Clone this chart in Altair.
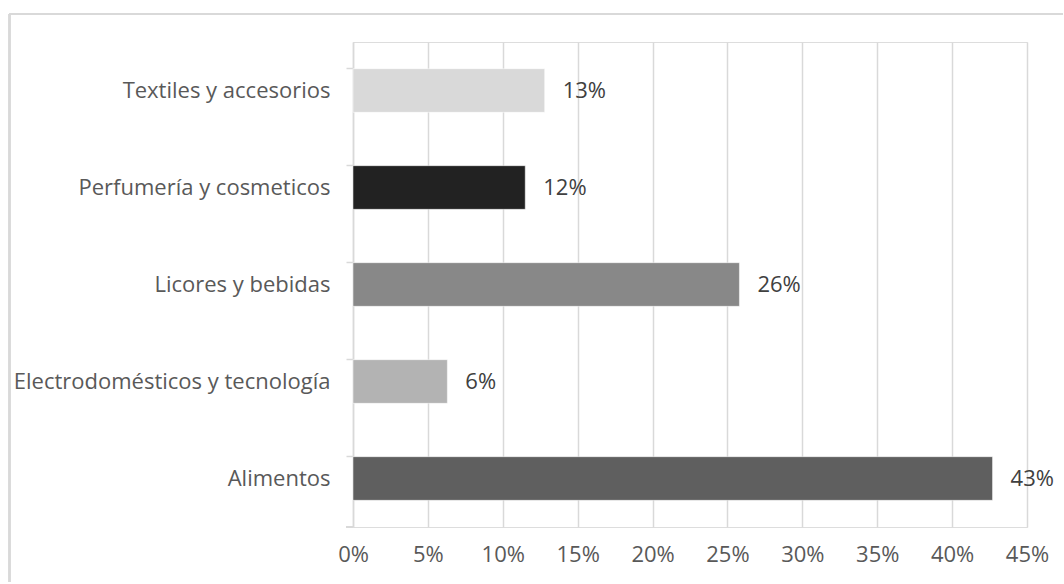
import altair as alt
import pandas as pd

categories = ["Textiles y accesorios", "Perfumería y cosmeticos", "Licores y bebidas",
              "Electrodomésticos y tecnología", "Alimentos"]
values = [12.8, 11.5, 25.8, 6.3, 42.7]
labels = ["13%", "12%", "26%", "6%", "43%"]
colors = ["#d9d9d9", "#222222", "#888888", "#b3b3b3", "#5f5f5f"]
x_ticks = [0, 5, 10, 15, 20, 25, 30, 35, 40, 45]

df = pd.DataFrame({"cat": categories, "val": values, "lab": labels, "col": colors})

FONT = "Open Sans"
FS = 22
W, H = 674, 485

y_enc = alt.Y("cat:N", sort=categories, title=None,
              scale=alt.Scale(paddingInner=0.55, paddingOuter=0.275),
              axis=alt.Axis(bandPosition=0, domainColor="#d9d9d9", domainWidth=1.5,
                            tickColor="#d9d9d9", tickWidth=1.5, tickSize=7,
                            labelPadding=16, labelFont=FONT, labelFontSize=FS,
                            labelColor="#595959", grid=False, labelLimit=400))

bars = alt.Chart(df).mark_bar(stroke="white", strokeWidth=0.5).encode(
    x=alt.X("val:Q", title=None,
            scale=alt.Scale(domain=[0, 45], nice=False, zero=True),
            axis=alt.Axis(values=x_ticks, labelExpr="datum.value + '%'", ticks=False,
                          domain=False, gridColor="#d9d9d9", gridWidth=1.5,
                          labelFlush=False, labelPadding=17, labelFont=FONT,
                          labelFontSize=FS, labelColor="#595959")),
    y=y_enc,
    color=alt.Color("col:N", scale=None, legend=None),
)

text = alt.Chart(df).mark_text(align="left", baseline="middle", dx=18,
                               font=FONT, fontSize=FS, color="#404040").encode(
    x="val:Q", y=alt.Y("cat:N", sort=categories), text="lab:N")

bottom_tick = alt.Chart(df).mark_rule(color="#d9d9d9", strokeWidth=1.5).encode(
    x=alt.value(-7), x2=alt.value(0), y=alt.value(H))

border_left = alt.Chart(df).mark_rule(color="#d9d9d9", strokeWidth=2).encode(
    x=alt.value(-343.5), y=alt.value(-28), y2=alt.value(540))
border_top = alt.Chart(df).mark_rule(color="#d9d9d9", strokeWidth=2).encode(
    y=alt.value(-28), x=alt.value(-343.5), x2=alt.value(710))

chart = alt.layer(border_left, border_top, bars, text, bottom_tick).properties(
    width=W, height=H,
    padding={"left": 8, "top": 13, "right": 0, "bottom": 0},
).configure_view(stroke=None).configure(background="white")

chart.save("out.html", embed_options={"renderer": "svg", "actions": False})
